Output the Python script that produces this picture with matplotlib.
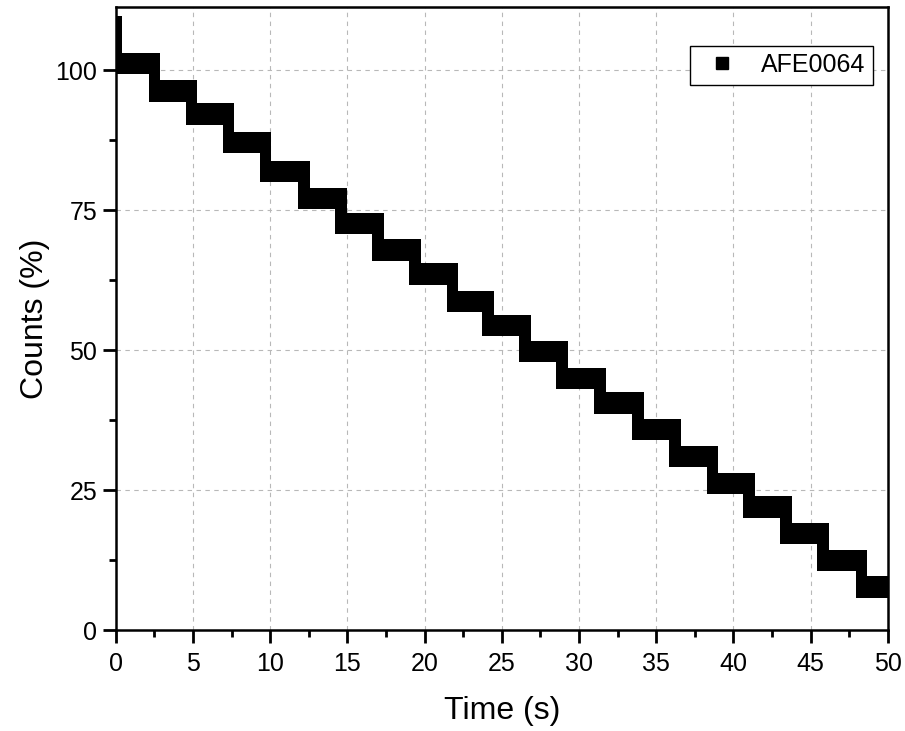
import numpy as np
import matplotlib.pyplot as plt
from matplotlib.lines import Line2D

plt.rcParams['font.family'] = ['Liberation Sans', 'DejaVu Sans']

# --- data ------------------------------------------------------------------
# time (s) at which each counts plateau begins, and the plateau level (%)
step_start = [0.0, 2.5, 4.9, 7.3, 9.7, 12.2, 14.6, 17.0, 19.4, 21.8, 24.1,
              26.5, 28.9, 31.35, 33.8, 36.2, 38.65, 41.0, 43.4, 45.8, 48.3]
step_level = [101.25, 96.3, 92.2, 87.1, 82.0, 77.1, 72.7, 67.9, 63.6, 58.75,
              54.4, 49.8, 45.0, 40.6, 35.9, 31.0, 26.25, 22.0, 17.2, 12.4, 7.7]
t_end = 50.0
first_count = 108.8          # very first sample at t = 0
series_label = 'AFE0064'

x_ticks = [0, 5, 10, 15, 20, 25, 30, 35, 40, 45, 50]
y_ticks = [0, 25, 50, 75, 100]

# marker footprint of the dense square-marker scatter
half_w = 0.38   # s
half_h = 1.9    # %  (marker + scatter within a plateau)
marker_h = 1.0  # %

fig = plt.figure(figsize=(9.05, 7.31), dpi=100)
ax = fig.add_axes([0.128, 0.138, 0.853, 0.853])

edges = np.append(step_start, t_end)
levels = np.array(step_level)
# plateaus
ax.bar(edges[:-1] - half_w, 2 * half_h, width=np.diff(edges) + 2 * half_w,
       bottom=levels - half_h, align='edge', color='black', linewidth=0,
       zorder=3)
# transitions between plateaus
drops = np.array(step_start[1:])
ax.bar(drops - half_w, (levels[:-1] + half_h) - (levels[1:] - half_h),
       width=2 * half_w, bottom=levels[1:] - half_h, align='edge',
       color='black', linewidth=0, zorder=3)
# initial spike
ax.bar(step_start[0] - half_w, first_count + marker_h - levels[0],
       width=2 * half_w, bottom=levels[0], align='edge', color='black',
       linewidth=0, zorder=3)

ax.set_xlim(0, 50)
ax.set_ylim(0, 111.4)
ax.set_xticks(x_ticks)
ax.set_yticks(y_ticks)
ax.set_xticks(np.arange(2.5, 50, 5), minor=True)
ax.set_yticks(np.arange(12.5, 100, 25), minor=True)

ax.grid(True, which='major', color='#b8b8b8', linestyle=(0, (4, 4)),
        linewidth=0.8)
ax.set_axisbelow(True)

ax.tick_params(which='major', direction='out', length=9.5, width=2,
               labelsize=18, top=False, right=False)
ax.tick_params(which='minor', direction='out', length=5, width=2,
               top=False, right=False)
ax.tick_params(axis='y', pad=4)
ax.tick_params(axis='x', pad=6)
for spine in ax.spines.values():
    spine.set_linewidth(1.8)
    spine.set_edgecolor('black')

ax.set_xlabel('Time (s)', fontsize=23, labelpad=15)
ax.set_ylabel('Counts (%)', fontsize=23, labelpad=4)

handle = Line2D([], [], marker='s', color='black', linestyle='none',
                markersize=9)
leg = ax.legend([handle], [series_label], loc='upper right',
                bbox_to_anchor=(0.9806, 0.9375), borderaxespad=0,
                fontsize=18, fancybox=False, framealpha=1,
                handletextpad=0.55, borderpad=0.3)
leg.get_frame().set_edgecolor('black')
leg.get_frame().set_linewidth(1.0)

fig.savefig('out.png', dpi=100)
